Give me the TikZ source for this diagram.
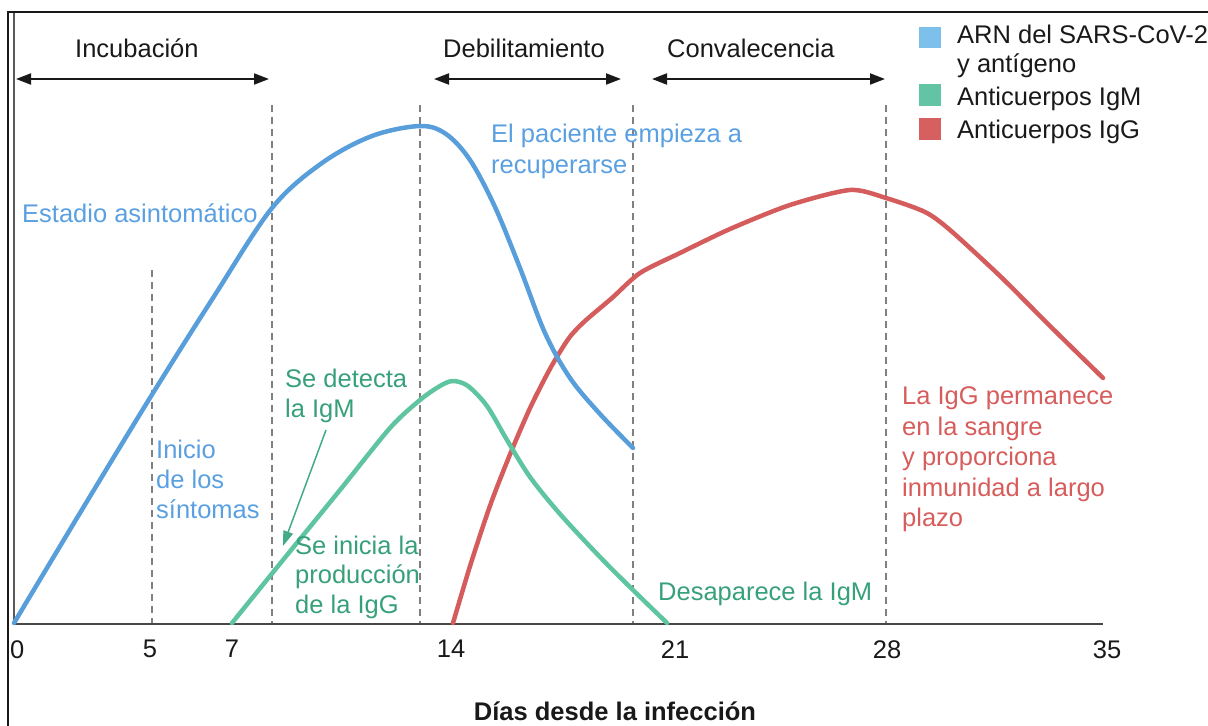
\documentclass[tikz,border=0pt]{standalone}
\usepackage{fontspec}
\setmainfont{Liberation Sans}
\usetikzlibrary{arrows.meta}
\definecolor{cblue}{RGB}{88,158,218}
\definecolor{tblue}{RGB}{90,160,225}
\definecolor{bblue}{RGB}{125,192,235}
\definecolor{cgreen}{RGB}{95,196,160}
\definecolor{tgreen}{RGB}{55,160,122}
\definecolor{bgreen}{RGB}{99,196,165}
\definecolor{cred}{RGB}{212,92,92}
\definecolor{tred}{RGB}{215,92,92}
\definecolor{bred}{RGB}{214,96,96}
\definecolor{ink}{RGB}{25,25,25}
\begin{document}
\begin{tikzpicture}[x=1bp,y=-1bp,
  lbl/.style={font=\fontsize{25.5bp}{30.5bp}\selectfont, inner sep=0pt, align=left, anchor=north west},
  tick/.style={font=\fontsize{25.5bp}{30.5bp}\selectfont, inner sep=0pt, anchor=north, text=ink},
  arr/.style={line width=2bp, draw=ink, {Triangle[length=15bp,width=11bp]}-{Triangle[length=15bp,width=11bp]}},
  dsh/.style={line width=1.6bp, draw=black!50, dash pattern=on 7bp off 5bp},
  curve/.style={line width=4.5bp, line cap=round, line join=round}
]
\useasboundingbox (0,0) rectangle (1208,726);
% frame
\draw[line width=1.5bp, ink] (8,726) -- (8,12) -- (1208,12);
% dashed guides
\draw[dsh] (152,270) -- (152,623);
\draw[dsh] (272,105) -- (272,623);
\draw[dsh] (420,105) -- (420,623);
\draw[dsh] (633,105) -- (633,623);
\draw[dsh] (886,105) -- (886,623);
% axes
\draw[line width=2.5bp, black!65] (14,13) -- (14,624);
\draw[line width=2.5bp, black!72] (14,624) -- (1103,624);
% phase arrows
\node[lbl, text=ink] (incub) at (75,38.7) {Incubación};
\node[lbl, text=ink] (debil) at (443,38.7) {Debilitamiento};
\node[lbl, text=ink] (conva) at (667,38.7) {Convalecencia};
\coordinate (incA) at (16,79);
\coordinate (incB) at (269,79);
\coordinate (debA) at (434,79);
\coordinate (debB) at (621,79);
\coordinate (conA) at (652,79);
\coordinate (conB) at (885,79);
\draw[arr] (incA) -- (incB);
\draw[arr] (debA) -- (debB);
\draw[arr] (conA) -- (conB);
% curves
\draw[curve, cred] plot[smooth, tension=0.45] coordinates {(453,623) (471,563) (491,503) (511,452) (531,406) (551,367) (569,338) (585,321) (612,298) (640,273) (680,253) (730,229) (790,205) (850,190) (886,198) (925,212) (950,230) (1000,276) (1050,326) (1103,378)};
\draw[curve, cgreen] plot[smooth, tension=0.5] coordinates {(232,623) (283,560) (340,490) (390,428) (420,400) (440,386) (453,381) (468,386) (487,406) (507,440) (530,477) (560,514) (600,557) (633,590) (667,623)};
\draw[curve, cblue] plot[smooth, tension=0.55] coordinates {(14,623) (83,508) (153,393) (213,298) (272,208) (322,163) (372,136) (420,126) (446,134) (470,160) (495,207) (520,268) (545,333) (570,378) (600,414) (633,448)};
% blue labels
\node[lbl, text=tblue] (asin) at (22,203.7) {Estadio asintomático};
\node[lbl, text=tblue, font=\fontsize{25.5bp}{31bp}\selectfont] (recup) at (491,123.7) {El paciente empieza a\\recuperarse};
\node[lbl, text=tblue, font=\fontsize{25.5bp}{30bp}\selectfont] (inicio) at (156,439.7) {Inicio\\de los\\síntomas};
% green labels
\node[lbl, text=tgreen, font=\fontsize{25.5bp}{30bp}\selectfont] (detec) at (285,368.7) {Se detecta\\la IgM};
\node[lbl, text=tgreen, font=\fontsize{25.5bp}{29.5bp}\selectfont] (produ) at (295,535.7) {Se inicia la\\producción\\de la IgG};
\node[lbl, text=tgreen] (desap) at (658,581.7) {Desaparece la IgM};
\coordinate (gA) at (326,430);
\coordinate (gB) at (283,546);
\draw[line width=1.5bp, tgreen!70!cgreen, -{Triangle[length=15bp,width=10bp]}] (gA) -- (gB);
% red label
\node[lbl, text=tred, font=\fontsize{25.5bp}{30.5bp}\selectfont] (perma) at (902,386.7) {La IgG permanece\\en la sangre\\y proporciona\\inmunidad a largo\\plazo};
% legend
\fill[bblue] (919,27) rectangle (941,48);
\fill[bgreen] (919,84) rectangle (941,106);
\fill[bred] (919,118) rectangle (941,140);
\node[lbl, text=ink, font=\fontsize{25.5bp}{29.5bp}\selectfont] (legA) at (957,24.7) {ARN del SARS-CoV-2\\y antígeno};
\node[lbl, text=ink] (legB) at (957,86.7) {Anticuerpos IgM};
\node[lbl, text=ink] (legC) at (957,119.7) {Anticuerpos IgG};
% ticks
\node[tick, anchor=north west] (t0) at (10,640) {0};
\node[tick] (t5) at (150,640) {5};
\node[tick] (t7) at (232,640) {7};
\node[tick] (t14) at (451,640) {14};
\node[tick] (t21) at (675,640) {21};
\node[tick] (t28) at (887,640) {28};
\node[tick] (t35) at (1107,640) {35};
\node[tick, font=\bfseries\fontsize{25.5bp}{30.5bp}\selectfont] (xlab) at (615,702) {Días desde la infección};
\end{tikzpicture}
\end{document}
